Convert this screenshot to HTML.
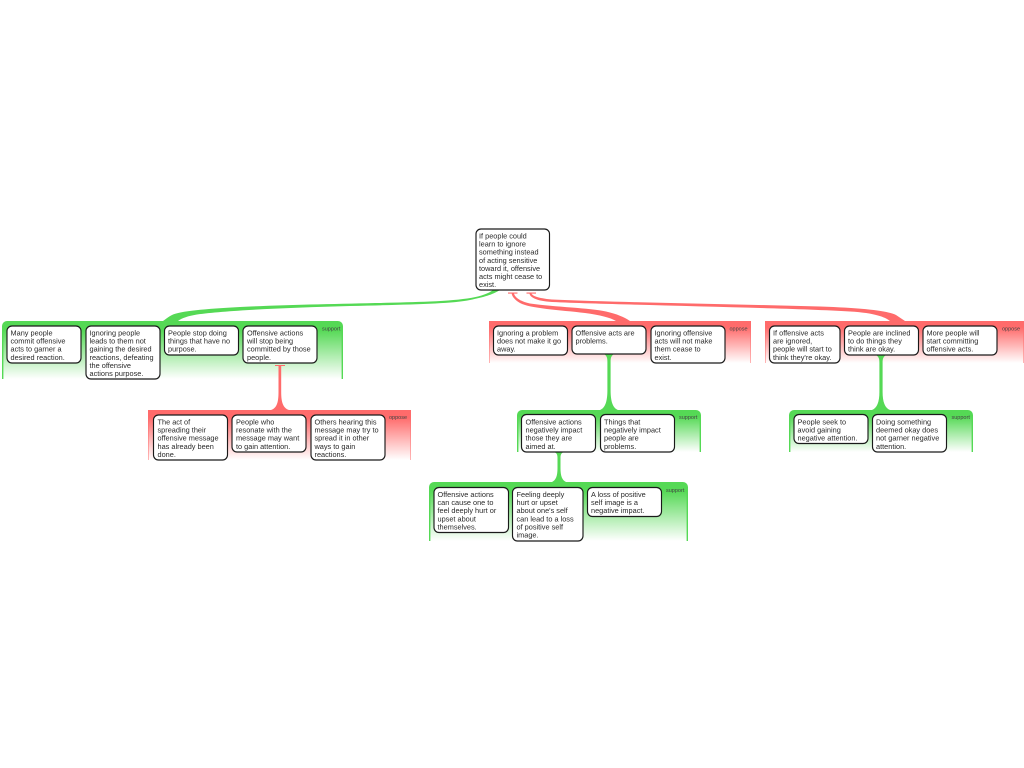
<!DOCTYPE html>
<html>
<head>
<meta charset="utf-8">
<style>
html,body{margin:0;padding:0;background:#fff;width:1024px;height:768px;overflow:hidden}
svg{display:block;filter:blur(.25px)}
.t{font-family:"Liberation Sans",sans-serif;font-size:7.35px;fill:#2a2a2a}
.l{font-family:"Liberation Sans",sans-serif;font-size:5.5px;fill:#444}
.n{fill:#fff;stroke:#1a1a1a;stroke-width:1.15}
</style>
</head>
<body>
<svg width="1024" height="768" viewBox="0 0 1024 768" xmlns="http://www.w3.org/2000/svg">
<defs>
<linearGradient id="g" x1="0" y1="0" x2="0" y2="1"><stop offset="0" stop-color="#55d955"/><stop offset=".15" stop-color="#55d955"/><stop offset="1" stop-color="#fff"/></linearGradient>
<linearGradient id="r" x1="0" y1="0" x2="0" y2="1"><stop offset="0" stop-color="#ff6b6b"/><stop offset=".15" stop-color="#ff6b6b"/><stop offset="1" stop-color="#fff"/></linearGradient>
</defs>

<!-- groups -->
<path d="M2 379V326a5 5 0 0 1 5-5H338a5 5 0 0 1 5 5V379Z" fill="url(#g)"/>
<path d="M2.700 379V326M342.300 379V326" stroke="#55d955" stroke-width="1.400" fill="none"/>
<rect x="148" y="410" width="263" height="50" fill="url(#r)"/>
<path d="M148.500 410V460M410.500 410V460" stroke="#ff6b6b" stroke-opacity=".5" fill="none"/>
<rect x="489" y="321" width="262" height="42" fill="url(#r)"/>
<path d="M489.500 321V363M750.500 321V363" stroke="#ff6b6b" stroke-opacity=".5" fill="none"/>
<rect x="765" y="321" width="259" height="42" fill="url(#r)"/>
<path d="M765.500 321V363M1023.500 321V363" stroke="#ff6b6b" stroke-opacity=".5" fill="none"/>
<path d="M789 452V415a5 5 0 0 1 5-5H968a5 5 0 0 1 5 5V452Z" fill="url(#g)"/>
<path d="M789.700 452V415M972.300 452V415" stroke="#55d955" stroke-width="1.400" fill="none"/>
<path d="M517 452V415a5 5 0 0 1 5-5H696a5 5 0 0 1 5 5V452Z" fill="url(#g)"/>
<path d="M517.700 452V415M700.300 452V415" stroke="#55d955" stroke-width="1.400" fill="none"/>
<path d="M429 541V487a5 5 0 0 1 5-5H683a5 5 0 0 1 5 5V541Z" fill="url(#g)"/>
<path d="M429.700 541V487M687.300 541V487" stroke="#55d955" stroke-width="1.400" fill="none"/>

<!-- connectors -->
<path d="M493 290C484 297 465 300 430 301.500C380 303.500 300 304 240 307C205 309 180 311 172 315C168 317 166 319 163 321L178 321C182 318 188 316 197 314.500C225 310.500 290 307.500 350 306C410 304.500 450 304 470 300C484 297 492 295 500 290Z" fill="#55d955"/>
<path d="M508 292.500H517.500V293.600H514C515 297 519 301 530 303.500C555 307 590 308 606 311.500C617 314 624 317 630 321H616C610 317.500 600 315 585 313C560 310 530 308.500 520 303C515 300 512 296.500 511.700 293.600H508Z" fill="#ff6b6b"/>
<path d="M526.500 292.500H536V293.600H531.500C533 296 537 298 552 299.500C620 302.500 730 304 820 306.500C865 308 888 311 896 315C899 317 902 319 905 321H890C885 317 875 313 850 311.500C780 307.500 620 305 552 302C536 301 530 297 529.500 293.600H526.500Z" fill="#ff6b6b"/>
<path d="M275 365H285V366H281.200V392C281.200 402 283 408 289 410H271C277 408 278.500 402 278.500 392V366H275Z" fill="#ff6b6b"/>
<path d="M604 354H614C611 356 610.600 358 610.600 362V390C610.600 402 613 408 618 410H600C605 408 607.400 402 607.400 390V362C607.400 358 607 356 604 354Z" fill="#55d955"/>
<path d="M554 452H564C561 453 560.500 455 560.500 458V468C560.500 476 562 480 566 482H552C556 480 557.500 476 557.500 468V458C557.500 455 557 453 554 452Z" fill="#55d955"/>
<path d="M876 355H886C883 357 882.600 359 882.600 363V392C882.600 402 885 408 890 410H872C877 408 879.400 402 879.400 392V363C879.400 359 879 357 876 355Z" fill="#55d955"/>

<!-- nodes -->
<rect class="n" x="476" y="229" width="73.500" height="61" rx="5"/>
<rect class="n" x="7" y="326" width="74" height="37" rx="5"/>
<rect class="n" x="86" y="326" width="74" height="53" rx="5"/>
<rect class="n" x="164.500" y="326" width="74" height="29" rx="5"/>
<rect class="n" x="243" y="326" width="74" height="37" rx="5"/>
<rect class="n" x="153.500" y="415" width="74" height="45" rx="5"/>
<rect class="n" x="232" y="415" width="74" height="37" rx="5"/>
<rect class="n" x="311" y="415" width="74" height="45" rx="5"/>
<rect class="n" x="493.500" y="326" width="74" height="29" rx="5"/>
<rect class="n" x="572" y="326" width="74" height="28" rx="5"/>
<rect class="n" x="651" y="326" width="74" height="37" rx="5"/>
<rect class="n" x="769.500" y="326" width="70.500" height="37" rx="5"/>
<rect class="n" x="844.500" y="326" width="74" height="29" rx="5"/>
<rect class="n" x="923" y="326" width="74" height="29" rx="5"/>
<rect class="n" x="794" y="414.500" width="74" height="29" rx="5"/>
<rect class="n" x="872.500" y="414.500" width="74" height="37.500" rx="5"/>
<rect class="n" x="521.500" y="414.500" width="74" height="37.500" rx="5"/>
<rect class="n" x="600.500" y="414.500" width="74" height="37.500" rx="5"/>
<rect class="n" x="434" y="487.500" width="74.500" height="45" rx="5"/>
<rect class="n" x="512.500" y="487.500" width="70.500" height="53.500" rx="5"/>
<rect class="n" x="587.500" y="487.500" width="74" height="29" rx="5"/>

<!-- text -->
<g class="t">
<text x="479" y="238.500">If people could</text><text x="479" y="246.600">learn to ignore</text><text x="479" y="254.700">something instead</text><text x="479" y="262.800">of acting sensitive</text><text x="479" y="270.900">toward it, offensive</text><text x="479" y="279">acts might cease to</text><text x="479" y="287.100">exist.</text>

<text x="10.500" y="335.500">Many people</text><text x="10.500" y="343.600">commit offensive</text><text x="10.500" y="351.700">acts to garner a</text><text x="10.500" y="359.800">desired reaction.</text>

<text x="89.500" y="335.500">Ignoring people</text><text x="89.500" y="343.600">leads to them not</text><text x="89.500" y="351.700">gaining the desired</text><text x="89.500" y="359.800">reactions, defeating</text><text x="89.500" y="367.900">the offensive</text><text x="89.500" y="376">actions purpose.</text>

<text x="168" y="335.500">People stop doing</text><text x="168" y="343.600">things that have no</text><text x="168" y="351.700">purpose.</text>

<text x="247" y="335.500">Offensive actions</text><text x="247" y="343.600">will stop being</text><text x="247" y="351.700">committed by those</text><text x="247" y="359.800">people.</text>

<text x="157.500" y="424.500">The act of</text><text x="157.500" y="432.600">spreading their</text><text x="157.500" y="440.700">offensive message</text><text x="157.500" y="448.800">has already been</text><text x="157.500" y="456.900">done.</text>

<text x="236" y="424.500">People who</text><text x="236" y="432.600">resonate with the</text><text x="236" y="440.700">message may want</text><text x="236" y="448.800">to gain attention.</text>

<text x="314.500" y="424.500">Others hearing this</text><text x="314.500" y="432.600">message may try to</text><text x="314.500" y="440.700">spread it in other</text><text x="314.500" y="448.800">ways to gain</text><text x="314.500" y="456.900">reactions.</text>

<text x="497" y="335.500">Ignoring a problem</text><text x="497" y="343.600">does not make it go</text><text x="497" y="351.700">away.</text>

<text x="575.500" y="335.500">Offensive acts are</text><text x="575.500" y="343.600">problems.</text>

<text x="654.500" y="335.500">Ignoring offensive</text><text x="654.500" y="343.600">acts will not make</text><text x="654.500" y="351.700">them cease to</text><text x="654.500" y="359.800">exist.</text>

<text x="773" y="335.500">If offensive acts</text><text x="773" y="343.600">are ignored,</text><text x="773" y="351.700">people will start to</text><text x="773" y="359.800">think they're okay.</text>

<text x="848" y="335.500">People are inclined</text><text x="848" y="343.600">to do things they</text><text x="848" y="351.700">think are okay.</text>

<text x="926.500" y="335.500">More people will</text><text x="926.500" y="343.600">start committing</text><text x="926.500" y="351.700">offensive acts.</text>

<text x="797.500" y="424.500">People seek to</text><text x="797.500" y="432.600">avoid gaining</text><text x="797.500" y="440.700">negative attention.</text>

<text x="876" y="424.500">Doing something</text><text x="876" y="432.600">deemed okay does</text><text x="876" y="440.700">not garner negative</text><text x="876" y="448.800">attention.</text>

<text x="525.500" y="424.500">Offensive actions</text><text x="525.500" y="432.600">negatively impact</text><text x="525.500" y="440.700">those they are</text><text x="525.500" y="448.800">aimed at.</text>

<text x="604" y="424.500">Things that</text><text x="604" y="432.600">negatively impact</text><text x="604" y="440.700">people are</text><text x="604" y="448.800">problems.</text>

<text x="437.500" y="497">Offensive actions</text><text x="437.500" y="505.100">can cause one to</text><text x="437.500" y="513.200">feel deeply hurt or</text><text x="437.500" y="521.300">upset about</text><text x="437.500" y="529.400">themselves.</text>

<text x="516.500" y="497">Feeling deeply</text><text x="516.500" y="505.100">hurt or upset</text><text x="516.500" y="513.200">about one's self</text><text x="516.500" y="521.300">can lead to a loss</text><text x="516.500" y="529.400">of positive self</text><text x="516.500" y="537.500">image.</text>

<text x="591" y="497">A loss of positive</text><text x="591" y="505.100">self image is a</text><text x="591" y="513.200">negative impact.</text>
</g>

<!-- labels -->
<g class="l">
<text x="322" y="330.500">support</text>
<text x="389" y="419">oppose</text>
<text x="729.500" y="330.500">oppose</text>
<text x="1002" y="330.500">oppose</text>
<text x="951.500" y="419">support</text>
<text x="679" y="419">support</text>
<text x="666" y="492">support</text>
</g>
</svg>
</body>
</html>
